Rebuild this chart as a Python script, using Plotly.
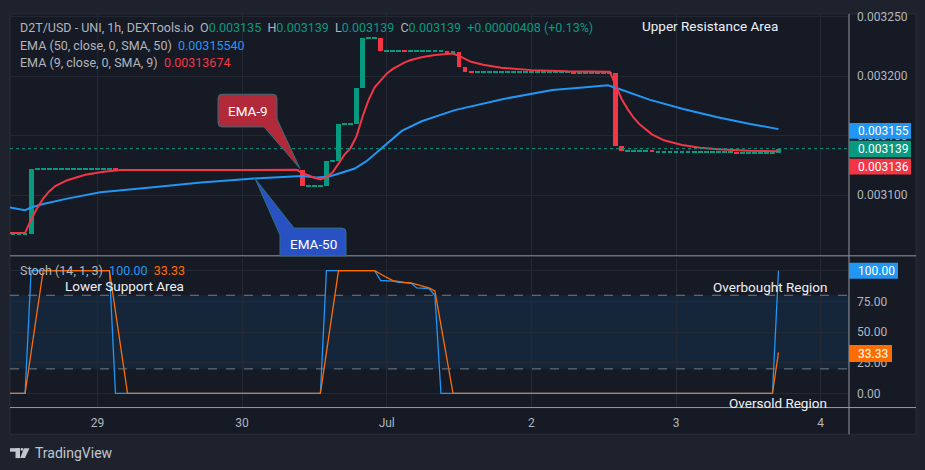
import pandas as pd
import plotly.graph_objects as go

W, H = 925, 470
BG_OUT = "#1e222d"
BG = "#161a25"
GRID = "#242833"
TXT = "#b2b5be"
UP = "#089981"
DN = "#f23645"
BLUE = "#2196f3"
ORANGE = "#ff6d00"
FONT = "Roboto"

BASE = pd.Timestamp("2024-06-29 00:00")

# ---------------- data ----------------
FIRST_HOUR = -15            # first hourly candle, hours from 29 Jun 00:00
FIRST_OPEN = 0.0030675
CLOSES = [
    # 28 Jun (hours -15 .. -1)
    0.0030675, 0.0030675, 0.0030675, 0.0030675, 0.0031220, 0.0031220, 0.0031220, 0.0031220,
    0.0031220, 0.0031220, 0.0031220, 0.0031220, 0.0031220, 0.0031220, 0.0031220,
    # 29 Jun
    0.0031220, 0.0031220, 0.0031220, 0.0031214, 0.0031214, 0.0031214, 0.0031212, 0.0031212,
    0.0031212, 0.0031212, 0.0031212, 0.0031212, 0.0031212, 0.0031212, 0.0031212, 0.0031212,
    0.0031212, 0.0031212, 0.0031212, 0.0031212, 0.0031212, 0.0031212, 0.0031212, 0.0031212,
    # 30 Jun
    0.0031212, 0.0031212, 0.0031212, 0.0031212, 0.0031212, 0.0031212, 0.0031212, 0.0031212,
    0.0031212, 0.0031212, 0.0031073, 0.0031073, 0.0031073, 0.0031073, 0.0031289, 0.0031289,
    0.0031598, 0.0031598, 0.0031598, 0.0031898, 0.0032323, 0.0032323, 0.0032323, 0.0032214,
    # 1 Jul
    0.0032214, 0.0032214, 0.0032214, 0.0032208, 0.0032208, 0.0032208, 0.0032208, 0.0032208,
    0.0032208, 0.0032208, 0.0032200, 0.0032200, 0.0032081, 0.0032039, 0.0032031, 0.0032031,
    0.0032031, 0.0032031, 0.0032031, 0.0032031, 0.0032031, 0.0032031, 0.0032031, 0.0032031,
    # 2 Jul
    0.0032031, 0.0032031, 0.0032031, 0.0032031, 0.0032031, 0.0032031, 0.0032031, 0.0032028,
    0.0032028, 0.0032028, 0.0032028, 0.0032028, 0.0032028, 0.0032028, 0.0031415, 0.0031368,
    0.0031368, 0.0031368, 0.0031368, 0.0031368, 0.0031366, 0.0031366, 0.0031366, 0.0031366,
    # 3 Jul
    0.0031366, 0.0031366, 0.0031366, 0.0031366, 0.0031366, 0.0031366, 0.0031366, 0.0031366,
    0.0031366, 0.0031366, 0.0031350, 0.0031350, 0.0031350, 0.0031350, 0.0031350, 0.0031350,
    0.0031350, 0.0031390,
]

EMA9_HOURS = [-15, -12, -11, -10, -9, -8, -7, -5, -2, 1, 4, 33, 34, 35, 36, 37, 38, 39, 40, 41,
              42, 43, 44, 45, 46, 47, 48, 49, 50, 51, 52, 54, 56, 58, 59, 60, 61, 62, 64, 67,
              72, 78, 85, 86, 87, 88, 89, 90, 91, 92, 94, 97, 100, 103, 108, 113]
EMA9_VALUES = [0.0030680, 0.0030680, 0.0030795, 0.0030890, 0.0030970, 0.0031030, 0.0031075,
               0.0031125, 0.0031170, 0.0031195, 0.0031210, 0.0031212, 0.0031186, 0.0031163,
               0.0031145, 0.0031132, 0.0031150, 0.0031189, 0.0031270, 0.0031340, 0.0031395,
               0.0031495, 0.0031660, 0.0031800, 0.0031905, 0.0031965, 0.0032020, 0.0032060,
               0.0032090, 0.0032115, 0.0032135, 0.0032160, 0.0032178, 0.0032188, 0.0032190,
               0.0032170, 0.0032145, 0.0032120, 0.0032095, 0.0032070, 0.0032050, 0.0032040,
               0.0032037, 0.0031925, 0.0031805, 0.0031720, 0.0031648, 0.0031592, 0.0031547,
               0.0031510, 0.0031460, 0.0031420, 0.0031398, 0.0031385, 0.0031372, 0.00313674]

EMA50_HOURS = [-15, -12, -11, -9, -5, 0.5, 8.8, 17.2, 26, 33, 34, 36.3, 38.3, 39.7, 42.7, 44.7,
               46.7, 48, 50.5, 53.8, 59.3, 67.2, 75.5, 80.5, 84.7, 86.7, 91.7, 97.2, 102.7,
               108.3, 113]
EMA50_VALUES = [0.0030900, 0.0030873, 0.0030895, 0.0030925, 0.0030970, 0.0031023, 0.0031064,
                0.0031106, 0.0031139, 0.0031162, 0.0031160, 0.0031148, 0.0031153, 0.0031175,
                0.0031223, 0.0031287, 0.0031373, 0.0031425, 0.0031539, 0.0031620, 0.0031714,
                0.0031806, 0.0031883, 0.0031903, 0.0031923, 0.0031889, 0.0031800, 0.0031723,
                0.0031656, 0.0031598, 0.0031554]

STOCH_K_HOURS = [-15, -12, -11, 2, 3, 37, 38, 46, 47, 48, 49, 50, 51, 52, 53, 54, 55, 56, 57,
                 112, 113]
STOCH_K_VALUES = [0, 0, 100, 100, 0, 0, 100, 100, 92, 92, 91.5, 90.5, 90, 90, 86, 86, 85.5,
                  80, 0, 0, 100]
STOCH_D_HOURS = [-15, -12, -11, -10, -9, 2, 3, 4, 5, 37, 38, 39, 40, 46, 47, 48, 49, 50, 51,
                 52, 53, 54, 55, 56, 57, 58, 59, 112, 113]
STOCH_D_VALUES = [0, 0, 33.33, 66.67, 100, 100, 66.67, 33.33, 0, 0, 33.33, 66.67, 100, 100,
                  97, 94.5, 92, 91, 90.5, 90, 88.5, 87, 86, 83.5, 55, 27, 0, 0, 33.33]

DAY_OFFSETS = [0, 1, 2, 3, 4, 5]
DAY_LABELS = ["29", "30", "Jul", "2", "3", "4"]
PRICE_TICKS = [0.0031, 0.00315, 0.0032, 0.00325]
PRICE_TICK_LABELS = ["0.003100", "0.003150", "0.003200", "0.003250"]
STOCH_TICKS = [0, 25, 50, 75, 100]
STOCH_TICK_LABELS = ["0.00", "25.00", "50.00", "75.00", "100.00"]
TAG_LABELS = ["0.003155", "0.003139", "0.003136"]
OHLC_TEXT = ["0.003135", "0.003139", "0.003139", "0.003139", "+0.00000408 (+0.13%)"]

# ---------------- helpers ----------------
def t(h):
    return BASE + pd.Timedelta(hours=h)

def P(x, y):
    return f"{x / W:.5f},{1 - y / H:.5f}"

def fx(x):
    return x / W

def fy(y):
    return 1 - y / H

n = len(CLOSES)
times = [t(FIRST_HOUR + i) for i in range(n)]
opens = [FIRST_OPEN] + CLOSES[:-1]
MIN_BODY = 0.85e-6
bases, heights, colors = [], [], []
for o, c in zip(opens, CLOSES):
    hgt = abs(c - o)
    if hgt < MIN_BODY:
        mid = (o + c) / 2
        bases.append(mid - MIN_BODY / 2)
        heights.append(MIN_BODY)
    else:
        bases.append(min(o, c))
        heights.append(hgt)
    colors.append(UP if c >= o else DN)

fig = go.Figure()
fig.add_trace(go.Bar(x=times, y=heights, base=bases, width=0.8 * 3600 * 1000,
                     marker=dict(color=colors, line=dict(width=0)),
                     xaxis="x", yaxis="y", hoverinfo="skip"))
fig.add_trace(go.Scatter(x=[t(h) for h in EMA50_HOURS], y=EMA50_VALUES, mode="lines",
                         line=dict(color=BLUE, width=2), xaxis="x", yaxis="y"))
fig.add_trace(go.Scatter(x=[t(h) for h in EMA9_HOURS], y=EMA9_VALUES, mode="lines",
                         line=dict(color=DN, width=2), xaxis="x", yaxis="y"))
fig.add_trace(go.Scatter(x=[t(h) for h in STOCH_K_HOURS], y=STOCH_K_VALUES, mode="lines",
                         line=dict(color=BLUE, width=1.3), xaxis="x", yaxis="y2"))
fig.add_trace(go.Scatter(x=[t(h) for h in STOCH_D_HOURS], y=STOCH_D_VALUES, mode="lines",
                         line=dict(color=ORANGE, width=1.3), xaxis="x", yaxis="y2"))

shapes = []
# chart box
shapes.append(dict(type="rect", xref="paper", yref="paper", x0=fx(10), x1=fx(916), y0=fy(434),
                   y1=fy(10), fillcolor=BG, line=dict(color="#2a2e39", width=1), layer="below"))
# stoch band and its bounds
shapes.append(dict(type="rect", xref="x domain", yref="y2", x0=0, x1=1, y0=20, y1=80,
                   fillcolor="rgba(33,150,243,0.10)", line=dict(width=0), layer="below"))
for lvl in (20, 80):
    shapes.append(dict(type="line", xref="x domain", yref="y2", x0=0, x1=1, y0=lvl, y1=lvl,
                       line=dict(color="#787b86", width=1, dash="dash")))
# last price dotted line
shapes.append(dict(type="line", xref="x domain", yref="y", x0=0, x1=1, y0=CLOSES[-1],
                   y1=CLOSES[-1], line=dict(color=UP, width=1, dash="dot")))
# separators
for yy in (254, 407):
    shapes.append(dict(type="line", xref="paper", yref="paper", x0=fx(10), x1=fx(916),
                       y0=fy(yy), y1=fy(yy), line=dict(color="#9598a1", width=1)))
shapes.append(dict(type="line", xref="paper", yref="paper", x0=fx(849), x1=fx(849),
                   y0=fy(10), y1=fy(434), line=dict(color="#9598a1", width=1)))

# callouts
ema9_path = (f"M {P(222,91)} L {P(273,91)} Q {P(277,91)} {P(277,95)} L {P(277,116)} "
             f"L {P(300,166)} L {P(264,124)} L {P(222,124)} Q {P(218,124)} {P(218,120)} "
             f"L {P(218,95)} Q {P(218,91)} {P(222,91)} Z")
ema50_path = (f"M {P(255,176)} L {P(294,226)} L {P(342,226)} Q {P(346,226)} {P(346,230)} "
              f"L {P(346,254)} L {P(280,254)} L {P(280,233)} Z")
shapes.append(dict(type="path", xref="paper", yref="paper", path=ema9_path,
                   fillcolor="#b22a3a", line=dict(color="#2f6f7c", width=1)))
shapes.append(dict(type="path", xref="paper", yref="paper", path=ema50_path,
                   fillcolor="#2852c4", line=dict(color="#2f6f7c", width=1)))

# price / stoch tags
tags = [(120, 136, 911, BLUE, TAG_LABELS[0]), (138, 154.5, 911, UP, TAG_LABELS[1]),
        (156, 172, 911, DN, TAG_LABELS[2]),
        (261, 277, 898, BLUE, f"{STOCH_K_VALUES[-1]:.2f}"),
        (344, 361, 892, ORANGE, f"{STOCH_D_VALUES[-1]:.2f}")]
annotations = []
for y0, y1, x1, col, txt in tags:
    shapes.append(dict(type="rect", xref="paper", yref="paper", x0=fx(849), x1=fx(x1),
                       y0=fy(y1), y1=fy(y0), fillcolor=col, line=dict(width=0)))
    annotations.append(dict(xref="paper", yref="paper", x=fx(856), y=fy((y0 + y1) / 2),
                            xanchor="left", yanchor="middle", showarrow=False, text=txt,
                            font=dict(family=FONT, size=12, color="#ffffff")))

# TradingView logo
LOGO = "#c3c6ce"
shapes.append(dict(type="rect", xref="paper", yref="paper", x0=fx(10), x1=fx(20), y0=fy(451.5),
                   y1=fy(448), fillcolor=LOGO, line=dict(width=0)))
shapes.append(dict(type="rect", xref="paper", yref="paper", x0=fx(15.5), x1=fx(20), y0=fy(458),
                   y1=fy(448), fillcolor=LOGO, line=dict(width=0)))
shapes.append(dict(type="circle", xref="paper", yref="paper", x0=fx(20.6), x1=fx(23.4),
                   y0=fy(450.6), y1=fy(447.8), fillcolor=LOGO, line=dict(width=0)))
shapes.append(dict(type="path", xref="paper", yref="paper",
                   path=f"M {P(24,448)} L {P(29.5,448)} L {P(25,458)} L {P(20.2,458)} Z",
                   fillcolor=LOGO, line=dict(width=0)))

def note(x, y, text, size=12.5, color=TXT, xanchor="left"):
    annotations.append(dict(xref="paper", yref="paper", x=fx(x), y=fy(y), xanchor=xanchor,
                            yanchor="middle", showarrow=False, text=text,
                            font=dict(family=FONT, size=size, color=color)))

def c(col, s):
    return f"<span style='color:{col}'>{s}</span>"

sp = "&nbsp;&nbsp;"
note(18, 24, "D2T/USD - UNI, 1h, DEXTools.io" + sp + "O" + c(UP, OHLC_TEXT[0]) + sp + "H"
     + c(UP, OHLC_TEXT[1]) + sp + "L" + c(UP, OHLC_TEXT[2]) + sp + "C" + c(UP, OHLC_TEXT[3])
     + sp + c(UP, OHLC_TEXT[4]))
note(18, 42, "EMA (50, close, 0, SMA, 50)" + sp + c(BLUE, f"{EMA50_VALUES[-1]:.8f}"))
note(18, 59.5, "EMA (9, close, 0, SMA, 9)" + sp + c(DN, f"{EMA9_VALUES[-1]:.8f}"))
note(18, 269, "Stoch (14, 1, 3)" + sp + c(BLUE, f"{STOCH_K_VALUES[-1]:.2f}") + sp
     + c(ORANGE, f"{STOCH_D_VALUES[-1]:.2f}"))
WHITE = "#eef0f5"
note(640, 22, "Upper Resistance Area", 13.5, WHITE)
note(63, 284.5, "Lower Support Area", 13.5, WHITE)
note(829, 285.5, "Overbought Region", 13.5, WHITE, "right")
note(829, 402, "Oversold Region", 13.5, WHITE, "right")
note(247.5, 108, "EMA-9", 13.5, "#ffffff", "center")
note(313, 242, "EMA-50", 13.5, "#ffffff", "center")
note(33, 452.5, "TradingView", 14, LOGO)

fig.update_layout(
    width=W, height=H, margin=dict(l=0, r=0, t=0, b=0),
    paper_bgcolor=BG_OUT, plot_bgcolor="rgba(0,0,0,0)", showlegend=False,
    hovermode=False, font=dict(family=FONT, size=12, color=TXT),
    xaxis=dict(type="date", domain=[fx(10), fx(849)], range=[t(-14.5), t(124.7)],
               anchor="y2", showgrid=True, gridcolor=GRID, gridwidth=1,
               tickvals=[t(24 * d) for d in DAY_OFFSETS], ticktext=DAY_LABELS, ticks="",
               showline=False, zeroline=False, ticklabelstandoff=6,
               tickfont=dict(family=FONT, size=12, color=TXT)),
    yaxis=dict(domain=[fy(254), fy(10)], range=[0.0030489, 0.00325225], side="right",
               anchor="x", tickvals=PRICE_TICKS, ticktext=PRICE_TICK_LABELS, ticks="",
               showgrid=True, gridcolor=GRID, zeroline=False, showline=False,
               ticklabelstandoff=7, tickfont=dict(family=FONT, size=12, color=TXT)),
    yaxis2=dict(domain=[fy(407), fy(256)], range=[-11.5, 110.5], side="right", anchor="x",
                tickvals=STOCH_TICKS, ticktext=STOCH_TICK_LABELS, ticks="", showgrid=True,
                gridcolor=GRID, zeroline=False, showline=False, ticklabelstandoff=7,
                tickfont=dict(family=FONT, size=12, color=TXT)),
    shapes=shapes, annotations=annotations, bargap=0,
)

fig.write_html("out.html")
